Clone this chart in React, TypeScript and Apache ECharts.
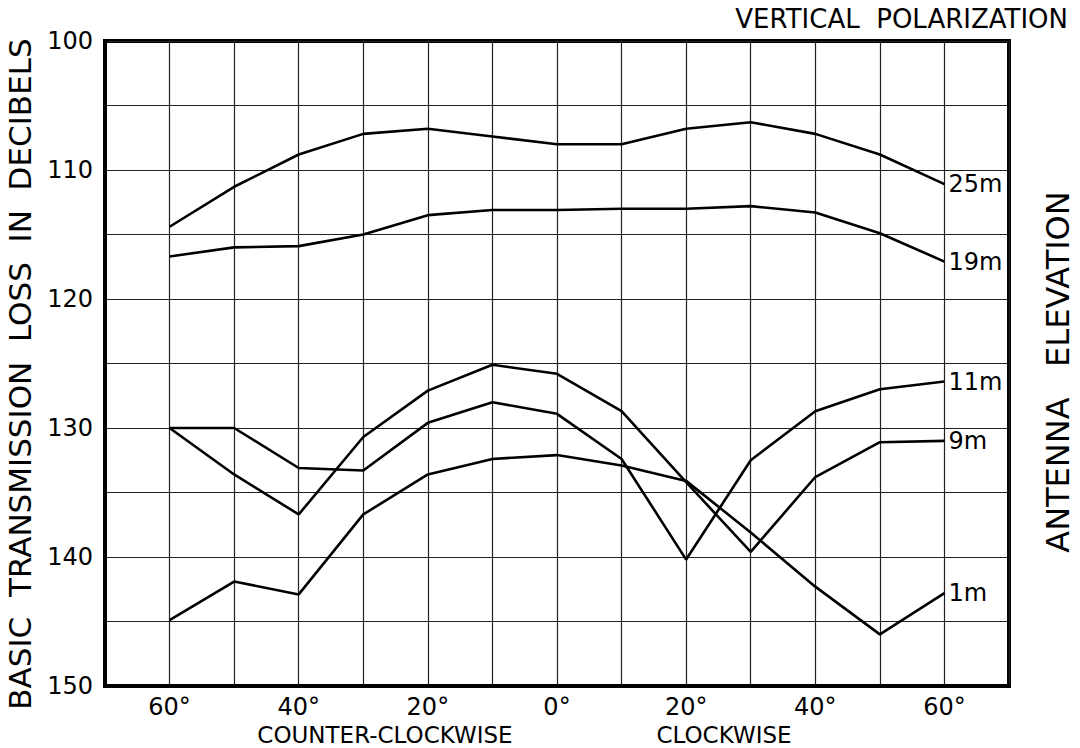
import React, { useEffect, useRef } from "react";
import * as echarts from "echarts";

const angles = [-60, -50, -40, -30, -20, -10, 0, 10, 20, 30, 40, 50, 60];
const s25 = [114.4, 111.3, 108.8, 107.2, 106.8, 107.4, 108.0, 108.0, 106.8, 106.3, 107.2, 108.8, 111.1];
const s19 = [116.7, 116.0, 115.9, 115.0, 113.5, 113.1, 113.1, 113.0, 113.0, 112.8, 113.3, 114.9, 117.1];
const s11 = [130.0, 130.0, 133.1, 133.3, 129.6, 128.0, 128.9, 132.4, 140.2, 132.5, 128.7, 127.0, 126.4];
const s9 = [130.0, 133.6, 136.7, 130.7, 127.1, 125.1, 125.8, 128.7, 134.2, 139.6, 133.8, 131.1, 131.0];
const s1 = [144.9, 141.9, 142.9, 136.7, 133.6, 132.4, 132.1, 132.9, 134.1, 138.1, 142.3, 146.0, 142.8];

const seriesList: { name: string; values: number[] }[] = [
  { name: "25m", values: s25 },
  { name: "19m", values: s19 },
  { name: "11m", values: s11 },
  { name: "9m", values: s9 },
  { name: "1m", values: s1 },
];

const yTickLabels = [100, 110, 120, 130, 140, 150];
const xTickLabels = [-60, -40, -20, 0, 20, 40, 60];

const FONT = "DejaVu Sans";

export default function App() {
  const ref = useRef<HTMLDivElement>(null);
  useEffect(() => {
    if (!ref.current) return;
    const chart = echarts.init(ref.current, null, { renderer: "svg" });
    chart.setOption({
      animation: false,
      backgroundColor: "#fff",
      grid: {
        left: 105,
        right: 71,
        top: 41,
        bottom: 62,
        show: true,
        borderColor: "#000",
        borderWidth: 4,
        containLabel: false,
        outerBoundsMode: "none",
      },
      xAxis: {
        type: "value",
        min: -70,
        max: 70,
        interval: 10,
        axisLine: { show: true, onZero: false, lineStyle: { color: "#000", width: 4 } },
        axisTick: { show: false },
        splitLine: { show: true, lineStyle: { color: "#222", width: 1.2 } },
        axisLabel: {
          margin: 9,
          color: "#000",
          fontFamily: FONT,
          fontSize: 24,
          formatter: (v: number) =>
            xTickLabels.indexOf(Math.round(v)) >= 0 ? Math.abs(Math.round(v)) + "°" : "",
        },
      },
      yAxis: {
        type: "value",
        inverse: true,
        min: 100,
        max: 150,
        interval: 5,
        axisLine: { show: true, onZero: false, lineStyle: { color: "#000", width: 4 } },
        axisTick: { show: false },
        splitLine: { show: true, lineStyle: { color: "#222", width: 1.2 } },
        axisLabel: {
          margin: 12,
          color: "#000",
          fontFamily: FONT,
          fontSize: 24,
          formatter: (v: number) =>
            yTickLabels.indexOf(Math.round(v)) >= 0 ? String(Math.round(v)) : "",
        },
      },
      series: seriesList.map((s) => ({
        name: s.name,
        type: "line",
        data: angles.map((a, i) => [a, s.values[i]]),
        showSymbol: false,
        symbol: "none",
        lineStyle: { color: "#000", width: 2.6 },
        endLabel: {
          show: true,
          formatter: "{a}",
          color: "#000",
          fontFamily: FONT,
          fontSize: 24,
          distance: 4,
        },
      })),
      graphic: [
        {
          type: "text",
          x: 20,
          y: 374,
          rotation: Math.PI / 2,
          style: {
            text: "BASIC  TRANSMISSION  LOSS  IN  DECIBELS",
            fontFamily: FONT,
            fontSize: 31,
            fill: "#000",
            align: "center",
            verticalAlign: "middle",
          },
        },
        {
          type: "text",
          x: 1058,
          y: 372,
          rotation: Math.PI / 2,
          style: {
            text: "ANTENNA   ELEVATION",
            fontFamily: FONT,
            fontSize: 32,
            fill: "#000",
            align: "center",
            verticalAlign: "middle",
          },
        },
        {
          type: "text",
          x: 1068,
          y: 19,
          style: {
            text: "VERTICAL  POLARIZATION",
            fontFamily: FONT,
            fontSize: 26,
            fill: "#000",
            align: "right",
            verticalAlign: "middle",
          },
        },
        {
          type: "text",
          x: 385,
          y: 735,
          style: {
            text: "COUNTER-CLOCKWISE",
            fontFamily: FONT,
            fontSize: 23,
            fill: "#000",
            align: "center",
            verticalAlign: "middle",
          },
        },
        {
          type: "text",
          x: 724,
          y: 735,
          style: {
            text: "CLOCKWISE",
            fontFamily: FONT,
            fontSize: 23,
            fill: "#000",
            align: "center",
            verticalAlign: "middle",
          },
        },
      ],
    });
    return () => chart.dispose();
  }, []);
  return (
    <div
      ref={ref}
      style={{ position: "fixed", left: 0, top: 0, width: 1080, height: 748, background: "#fff" }}
    />
  );
}
